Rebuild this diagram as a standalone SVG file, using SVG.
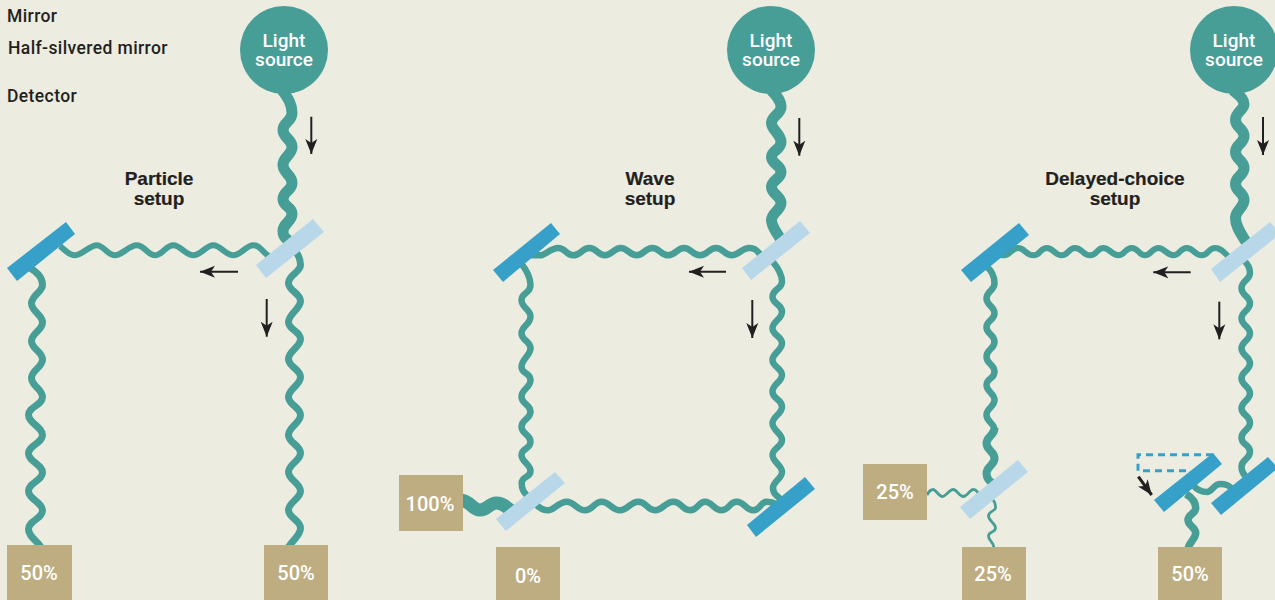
<svg xmlns="http://www.w3.org/2000/svg" width="1275" height="600" viewBox="0 0 1275 600">
<defs>
<marker id="ah" viewBox="0 0 15 14" refX="15" refY="7" markerWidth="15" markerHeight="14" markerUnits="userSpaceOnUse" orient="auto"><path d="M0 1 L15 7 L0 13 L4 7 Z" fill="#231f20"/></marker>
</defs>
<style>
.w{fill:none;stroke:#469e97;stroke-linecap:butt;stroke-linejoin:round}
.a{fill:none;stroke:#231f20;stroke-width:2}
.m{fill:#36a0c8}
.h{fill:#b8d8ea}
.d{fill:#bead80}
.s{fill:#469e97}
.st{font:500 19px Roboto,"Liberation Sans",sans-serif;fill:#fff;text-anchor:middle}
.dt{font:500 20px Roboto,"Liberation Sans",sans-serif;fill:#fff;text-anchor:middle}
.t{font:bold 19px "Liberation Sans",sans-serif;fill:#231f20;text-anchor:middle;stroke:#231f20;stroke-width:.2}
.k{font:500 17.500px Roboto,"Liberation Sans",sans-serif;fill:#231f20;letter-spacing:.4px}
</style>
<rect width="1275" height="600" fill="#ecece0"/>
<g id="connectors">
<!-- panel 1 -->
<path class="w" stroke-width="11" d="M282 90 C288 98 292 104 292 113 S283 122 283 130 S292 139 292 147 S283 157 283 165 S292 175 292 183 S283 191 283 199 S292 206 292 214 S283 223 283 231 S287 238 290 242"/>
<path class="w" stroke-width="6" d="M60 246 C65 250 69 255.300 75 255.300 S90 245.300 96.700 245.300 S108 255.300 115 255.300 S129 245.300 136.700 245.300 S148 255.300 155 255.300 S166 245.300 173.300 245.300 S186 255.300 193.300 255.300 S206 245.300 213.300 245.300 S226 255.300 233.300 255.300 S246 245.300 253.300 245.300 S262 252 270 257"/>
<path class="w" stroke-width="7" d="M30 268 C37 272 42.500 278 42.500 285 S31.500 295.500 31.500 303.500 S42.500 314.500 42.500 322.500 S31.500 333 31.500 341 S42.500 351.500 42.500 359.500 S31.500 370 31.500 378 S42.500 389 42.500 397 S28.500 407 28.500 415 S42.500 427 42.500 435 S28.500 445.500 28.500 453.500 S42.500 464.500 42.500 472.500 S28.500 483 28.500 491 S42.500 502.500 42.500 510.500 S28.500 521 28.500 529 S38 541 42 549"/>
<path class="w" stroke-width="7" d="M294 250 C298 254 300.500 258 300.500 265 S288.500 275 288.500 283 S300.500 293 300.500 301 S288.500 314 288.500 322 S300.500 331 300.500 339 S288.500 351 288.500 359 S300.500 369 300.500 377 S288.500 389 288.500 397 S300.500 407 300.500 415 S288.500 427 288.500 435 S300.500 445 300.500 453 S288.500 464 288.500 472 S300.500 483 300.500 491 S288.500 502 288.500 510 S300.500 520 300.500 528 S292 540 288 548"/>
<!-- panel 2 -->
<path class="w" stroke-width="11" d="M771 90 C776 95 781 100 781 107 S771.500 116 771.500 123 S781 134 781 142 S771.500 150 771.500 157 S781 165 781 172 S771.500 180 771.500 187 S781 196 781 203 S771.500 213 771.500 220 S776 231 781 240"/>
<path class="w" stroke-width="6.500" d="M528 255 C532 255 535 255.300 540 255.300 S551 248 558.300 248 S566 255.300 573.300 255.300 S582 248 589.300 248 S598 255.300 605 255.300 S614 248 620.700 248 S630 255.300 636.700 255.300 S645 248 652.300 248 S661 255.300 668.300 255.300 S677 248 684 248 S693 255.300 700 255.300 S709 248 716 248 S725 255.300 731.700 255.300 S742 248 749.300 248 S757 252 764 258"/>
<path class="w" stroke-width="6.500" d="M520 262 C525 268 530.500 276 530.500 285 S521.500 292 521.500 300 S530.500 309 530.500 316.700 S521.500 326 521.500 333.300 S530.500 341 530.500 348.300 S521.500 359 521.500 366.700 S530.500 372 530.500 380 S521.500 389 521.500 396.700 S530.500 404 530.500 411.700 S521.500 419 521.500 426.700 S530.500 434 530.500 441.700 S521.500 448 521.500 455 S530.500 464 530.500 471 S521.700 476 521.700 483 S524 492 528 497"/>
<path class="w" stroke-width="6.500" d="M773 262 C778 268 782 274 782 281.700 S772.500 289 772.500 296.700 S782 304 782 311.700 S772.500 321 772.500 328.300 S782 336 782 343.300 S772.500 353 772.500 360 S782 368 782 375 S772.500 384 772.500 391.700 S782 399 782 406.700 S772.500 416 772.500 423.300 S782 433 782 440 S772.500 448 772.500 455 S782 465 782 472 S773 481 773 488 S777 495 780 499"/>
<path class="w" stroke-width="6.500" d="M535 503 C538 507 543 510.300 548.300 510.300 S559 501.700 566.700 501.700 S577 510.300 585 510.300 S594 501.700 601.700 501.700 S612 510.300 620 510.300 S630 501.700 638.300 501.700 S647 510.300 655 510.300 S665 501.700 673.300 501.700 S682 510.300 690 510.300 S698 501.700 705 501.700 S714 510.300 721.700 510.300 S729 501.700 736.700 501.700 S746 510.300 753.300 510.300 S760 501.700 766.700 501.700 S774 503 780 506"/>
<path class="w" stroke-width="13" d="M460 500 C470 500 472 510 480 510 S489 503 496.500 503 S505 507 512 511"/>
<!-- panel 3 -->
<path class="w" stroke-width="11" d="M1233 90 C1238 95 1244 98 1244 104 S1235.500 112 1235.500 120 S1244 128 1244 136 S1235.500 144 1235.500 152 S1244 160 1244 168 S1235.500 176 1235.500 184 S1244 192 1244 200 S1235.500 210 1235.500 218 S1240 232 1246 242"/>
<path class="w" stroke-width="6" d="M995 252 C998 255.300 1001 255.300 1005 255.300 S1012 248 1018.300 248 S1026 255.300 1033.300 255.300 S1040 248 1046.700 248 S1055 255.300 1061.700 255.300 S1068 248 1075 248 S1083 255.300 1090 255.300 S1097 248 1103.300 248 S1112 255.300 1118.300 255.300 S1125 248 1131.700 248 S1139 255.300 1145 255.300 S1152 248 1158.300 248 S1167 255.300 1173.300 255.300 S1180 248 1186.700 248 S1195 255.300 1201.700 255.300 S1208 248 1215 248 S1224 253 1230 258"/>
<path class="w" stroke-width="6.500" d="M986 266 C991 270 994.500 276 994.500 283.300 S986.500 291 986.500 298.300 S994.500 306 994.500 313.300 S986.500 320 986.500 327.300 S994.500 334 994.500 341.700 S986.500 349 986.500 356.700 S994.500 364 994.500 371.700 S986.500 378 986.500 385 S994.500 393 994.500 400 S986.500 408 986.500 415 S994.500 423 994.500 430"/>
<path class="w" stroke-width="8" d="M994.500 428 C994.500 436 986.500 436 986.500 443.300 S994.500 451 994.500 458.300 S986.500 466 986.500 473.300 S992 482 997 487"/>
<path class="w" stroke-width="6.500" d="M1243 260 C1247 263 1250 267 1250 273.300 S1241.500 281 1241.500 288.300 S1250 296 1250 303.300 S1241.500 311 1241.500 318.300 S1250 326 1250 333.300 S1241.500 341 1241.500 348.300 S1250 356 1250 363.300 S1241.500 371 1241.500 378.300 S1250 386 1250 393.300 S1241.500 401 1241.500 408.300 S1250 415 1250 422.700 S1241.500 430 1241.500 437.700 S1250 444 1250 451.700 S1241.500 459 1241.500 466.700 S1245 474 1248 480"/>
<path class="w" stroke-width="2.800" d="M927 495 C929 491 931 489.500 933.300 489.500 S939 496.500 942.300 496.500 S949.500 489.500 953.300 489.500 S959 496.500 963.300 496.500 S969.500 489.500 973.300 489.500 S976 491 979 494"/>
<path class="w" stroke-width="2.800" d="M993 500 C995 502 995.500 505 995.500 508 S988.500 511 988.500 516 S995.500 523 995.500 528 S988.500 531 988.500 536 S994 542 994 548"/>
<path class="w" stroke-width="6.500" d="M1193 485 C1197 490 1202 492 1207 492 S1214 484 1220 484 S1228 485 1234 490"/>
<path class="w" stroke-width="7.500" d="M1186 494 C1191 497 1195.700 502 1195.700 508 S1188 514 1188 520 S1195.700 527 1195.700 533 S1189 542 1188 549"/>
<path d="M1213 454.700 H1138 V470.700 H1190" fill="none" stroke="#36a0c8" stroke-width="3" stroke-dasharray="7 5"/>
<path class="a" d="M311.300 116.700 V154" marker-end="url(#ah)"/>
<path class="a" d="M238 271.700 H200" marker-end="url(#ah)"/>
<path class="a" d="M266.700 299 V336.700" marker-end="url(#ah)"/>
<path class="a" d="M799.300 118 V155.700" marker-end="url(#ah)"/>
<path class="a" d="M726 271.700 H689" marker-end="url(#ah)"/>
<path class="a" d="M752.300 300 V338" marker-end="url(#ah)"/>
<path class="a" d="M1263 117 V155" marker-end="url(#ah)"/>
<path class="a" d="M1190.700 272.300 H1153.300" marker-end="url(#ah)"/>
<path class="a" d="M1219.300 301.700 V339.300" marker-end="url(#ah)"/>
<path class="a" d="M1138.300 476.700 L1151.700 495" style="stroke-width:3" marker-end="url(#ah)"/>
</g>
<g id="legend">
<text class="k" x="7" y="22">Mirror</text>
<text class="k" x="8" y="54">Half-silvered mirror</text>
<text class="k" x="7" y="102">Detector</text>
</g>
<g id="particle-title"><text class="t" x="159" y="185">Particle</text><text class="t" x="159" y="205">setup</text></g>
<g id="wave-title"><text class="t" x="650" y="185">Wave</text><text class="t" x="650" y="205">setup</text></g>
<g id="delayed-title"><text class="t" x="1115" y="185">Delayed-choice</text><text class="t" x="1115" y="205">setup</text></g>
<g id="source-1"><circle class="s" cx="284" cy="50" r="44"/><text class="st" x="284" y="47">Light</text><text class="st" x="284" y="66">source</text></g>
<g id="source-2"><circle class="s" cx="771" cy="50" r="44"/><text class="st" x="771" y="47">Light</text><text class="st" x="771" y="66">source</text></g>
<g id="source-3"><circle class="s" cx="1234" cy="50" r="44"/><text class="st" x="1234" y="47">Light</text><text class="st" x="1234" y="66">source</text></g>
<g id="half-1"><polygon class="h" points="313,219 324,232 266,278 256,265"/></g>
<g id="mirror-1"><polygon class="m" points="66,222 75,234 17,281 7,268"/></g>
<g id="half-2"><polygon class="h" points="800,221 810,233 751,280 742,268"/></g>
<g id="mirror-2"><polygon class="m" points="551,223 560,234 503,282 493,270"/></g>
<g id="half-2b"><polygon class="h" points="555,472 565,483 506,531 496,519"/></g>
<g id="mirror-2b"><polygon class="m" points="805,477 815,489 756,537 747,525"/></g>
<g id="half-3"><polygon class="h" points="1270,222 1280,234 1220,282 1211,269"/></g>
<g id="mirror-3"><polygon class="m" points="1019,223 1029,235 971,282 961,270"/></g>
<g id="half-3b"><polygon class="h" points="1018,460 1028,472 970,519 960,507"/></g>
<g id="mirror-3a"><polygon class="m" points="1213,453 1222,464 1164,512 1154,500"/></g>
<g id="mirror-3b"><polygon class="m" points="1268,457 1278,468 1221,515 1211,503"/></g>
<g id="det-1"><rect class="d" x="7" y="545" width="65" height="55"/><text class="dt" x="39" y="580">50%</text></g>
<g id="det-2"><rect class="d" x="264" y="545" width="64" height="55"/><text class="dt" x="296" y="580">50%</text></g>
<g id="det-3"><rect class="d" x="399" y="475" width="64" height="56"/><text class="dt" x="430" y="511">100%</text></g>
<g id="det-4"><rect class="d" x="496" y="547" width="64" height="53"/><text class="dt" x="528" y="583">0%</text></g>
<g id="det-5"><rect class="d" x="863" y="464" width="64" height="56"/><text class="dt" x="895" y="499">25%</text></g>
<g id="det-6"><rect class="d" x="962" y="547" width="64" height="53"/><text class="dt" x="993" y="581">25%</text></g>
<g id="det-7"><rect class="d" x="1158" y="547" width="64" height="53"/><text class="dt" x="1190" y="581">50%</text></g>
</svg>
